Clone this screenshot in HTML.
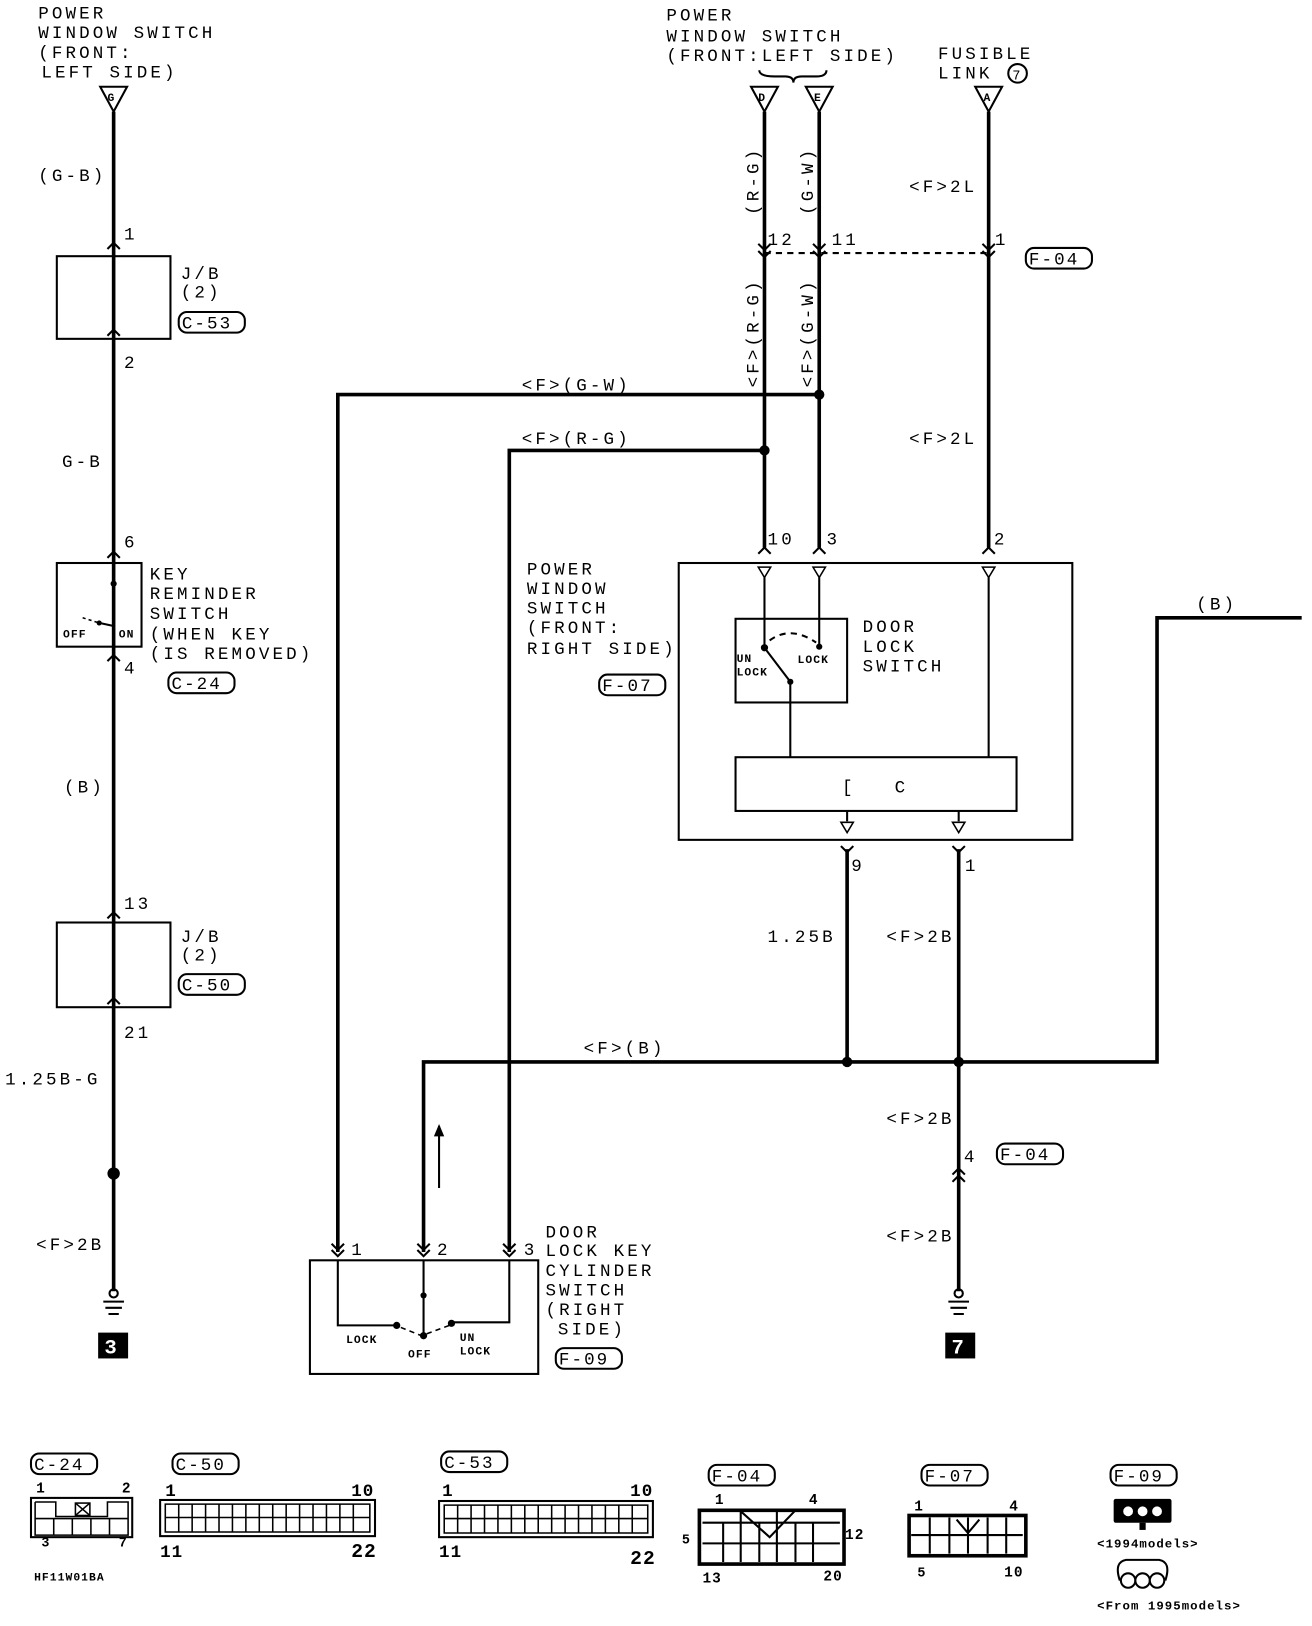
<!DOCTYPE html>
<html><head><meta charset="utf-8"><style>
html,body{margin:0;padding:0;background:#fff;}
svg{display:block;}
text{font-family:"Liberation Mono",monospace;font-size:17px;fill:#000;letter-spacing:3px;}
.b{font-weight:bold;letter-spacing:1px;}
.s{font-size:11px;font-weight:bold;letter-spacing:1px;}
.t{stroke:#000;stroke-width:3.5;fill:none;}
.n{stroke:#000;stroke-width:2;fill:none;}
.th{stroke:#000;stroke-width:1.5;fill:none;}
.lb{letter-spacing:2px;}
</style></head><body>
<svg width="1312" height="1626" viewBox="0 0 1270 1574" preserveAspectRatio="none" xmlns="http://www.w3.org/2000/svg">
<!-- LEFT COLUMN -->
<text x="37" y="18">POWER</text><text x="37" y="37">WINDOW SWITCH</text><text x="37" y="56">(FRONT:</text><text x="40" y="75">LEFT SIDE)</text>
<path class="n" d="M97 84 L123 84 L110 108 Z"/><text x="104" y="98" class="s">G</text>
<line class="t" x1="110" y1="108" x2="110" y2="1250"/>
<text x="37" y="175">(G-B)</text>
<path class="n" d="M104 241 L110 235 L116 241 M104 325 L110 319 L116 325"/>
<text x="120" y="232">1</text>
<rect class="n" x="55" y="248" width="110" height="80"/>
<text x="175" y="270">J/B</text><text x="175" y="288">(2)</text>
<rect class="n" x="173" y="302" width="64" height="20" rx="8"/><text x="176" y="318" class="lb">C-53</text>
<text x="120" y="356">2</text><text x="60" y="452">G-B</text>
<path class="n" d="M104 540 L110 534 L116 540 M104 640 L110 634 L116 640"/>
<text x="120" y="530">6</text>
<rect class="n" x="55" y="545" width="82" height="81"/>
<circle cx="110" cy="565" r="3"/><line class="n" x1="110" y1="565" x2="110" y2="604"/>
<path class="th" d="M80 598 L96 603" stroke-dasharray="3 3"/><circle cx="96" cy="603" r="2.5"/><line class="n" x1="96" y1="603" x2="110" y2="606"/>
<text x="61" y="617" class="s">OFF</text><text x="115" y="617" class="s">ON</text>
<text x="145" y="561">KEY</text><text x="145" y="580">REMINDER</text><text x="145" y="599">SWITCH</text>
<text x="145" y="619">(WHEN KEY</text><text x="145" y="638">(IS REMOVED)</text>
<rect class="n" x="163" y="651" width="64" height="20" rx="8"/><text x="166" y="667" class="lb">C-24</text>
<text x="120" y="652">4</text><text x="62" y="767">(B)</text>
<path class="n" d="M104 889 L110 883 L116 889 M104 972 L110 966 L116 972"/>
<text x="120" y="880">13</text>
<rect class="n" x="55" y="893" width="110" height="82"/>
<text x="175" y="912">J/B</text><text x="175" y="930">(2)</text>
<rect class="n" x="173" y="943" width="64" height="20" rx="8"/><text x="176" y="959" class="lb">C-50</text>
<text x="120" y="1005">21</text><text x="5" y="1050">1.25B-G</text>
<circle cx="110" cy="1136" r="6"/>
<text x="35" y="1210">&lt;F&gt;2B</text>
<circle class="n" cx="110" cy="1252" r="4" fill="#fff"/><path class="n" d="M100 1260 H120 M102 1266 H118 M105 1272 H115"/>
<rect x="95" y="1290" width="29" height="25" fill="#000"/><text x="101" y="1310" style="fill:#fff;font-weight:bold;font-size:20px">3</text>

<!-- TOP MIDDLE -->
<text x="645" y="20">POWER</text><text x="645" y="40">WINDOW SWITCH</text><text x="645" y="59">(FRONT:LEFT SIDE)</text>
<path class="n" d="M735 68 Q735 74 750 74 L760 74 Q768 74 768 80 Q768 74 776 74 L790 74 Q800 74 800 68"/>
<text x="908" y="57">FUSIBLE</text><text x="908" y="76">LINK</text><circle class="n" cx="985" cy="71" r="9"/><text x="980" y="77" style="font-size:13px;letter-spacing:0">7</text>
<path class="n" d="M727 84 L753 84 L740 108 Z"/><text x="734" y="98" class="s">D</text>
<path class="n" d="M780 84 L806 84 L793 108 Z"/><text x="788" y="98" class="s">E</text>
<path class="n" d="M944 84 L970 84 L957 108 Z"/><text x="952" y="98" class="s">A</text>
<line class="t" x1="740" y1="108" x2="740" y2="530"/>
<line class="t" x1="793" y1="108" x2="793" y2="530"/>
<line class="t" x1="957" y1="108" x2="957" y2="530"/>
<text transform="translate(734,208) rotate(-90)">(R-G)</text>
<text transform="translate(787,208) rotate(-90)">(G-W)</text>
<text x="880" y="186">&lt;F&gt;2L</text>
<line class="n" x1="740" y1="245" x2="957" y2="245" stroke-dasharray="6 5"/>
<path class="n" d="M734 236 L740 242 L746 236 M734 243 L740 249 L746 243 M787 236 L793 242 L799 236 M787 243 L793 249 L799 243 M951 236 L957 242 L963 236 M951 243 L957 249 L963 243"/>
<text x="743" y="237">12</text><text x="805" y="237">11</text><text x="963" y="237">1</text>
<rect class="n" x="993" y="240" width="64" height="20" rx="8"/><text x="996" y="256" class="lb">F-04</text>
<text transform="translate(734,375) rotate(-90)">&lt;F&gt;(R-G)</text>
<text transform="translate(787,375) rotate(-90)">&lt;F&gt;(G-W)</text>
<text x="880" y="430">&lt;F&gt;2L</text>
<circle cx="793" cy="382" r="5"/><circle cx="740" cy="436" r="5"/>
<path class="t" d="M793 382 H327 V1212"/>
<path class="t" d="M740 436 H493 V1212"/>
<text x="505" y="378">&lt;F&gt;(G-W)</text><text x="505" y="430">&lt;F&gt;(R-G)</text>
<path class="n" d="M734 536 L740 530 L746 536 M787 536 L793 530 L799 536 M951 536 L957 530 L963 536"/>
<text x="743" y="527">10</text><text x="800" y="527">3</text><text x="962" y="527">2</text>
<text x="510" y="556">POWER</text><text x="510" y="575">WINDOW</text><text x="510" y="594">SWITCH</text><text x="510" y="613">(FRONT:</text><text x="510" y="633">RIGHT SIDE)</text>
<rect class="n" x="580" y="653" width="64" height="20" rx="8"/><text x="583" y="669" class="lb">F-07</text>
<rect class="n" x="657" y="545" width="381" height="268"/>
<path class="th" d="M734 549 H746 L740 559 Z M787 549 H799 L793 559 Z M951 549 H963 L957 559 Z"/>
<line class="n" x1="740" y1="559" x2="740" y2="627"/>
<line class="n" x1="793" y1="559" x2="793" y2="626"/>
<line class="n" x1="957" y1="559" x2="957" y2="733"/>
<rect class="n" x="712" y="599" width="108" height="81"/>
<circle cx="740" cy="627" r="3.5"/><circle cx="793" cy="626" r="3"/><circle cx="765" cy="660" r="3"/>
<line class="n" x1="740" y1="627" x2="765" y2="660"/>
<path class="n" d="M745 620 Q765 605 790 622" stroke-dasharray="6 5"/>
<line class="n" x1="765" y1="660" x2="765" y2="733"/>
<text x="713" y="641" class="s">UN</text><text x="713" y="654" class="s">LOCK</text><text x="772" y="642" class="s">LOCK</text>
<text x="835" y="612">DOOR</text><text x="835" y="631">LOCK</text><text x="835" y="650">SWITCH</text>
<rect class="n" x="712" y="733" width="272" height="52"/>
<text x="815" y="767">[</text><text x="866" y="767">C</text>
<line class="n" x1="820" y1="785" x2="820" y2="795"/><line class="n" x1="928" y1="785" x2="928" y2="795"/>
<path class="th" d="M814 796 H826 L820 806 Z M922 796 H934 L928 806 Z"/>
<path class="n" d="M814 819 L820 825 L826 819 M922 819 L928 825 L934 819"/>
<line class="t" x1="820" y1="822" x2="820" y2="1028"/>
<line class="t" x1="928" y1="822" x2="928" y2="1250"/>
<text x="824" y="843">9</text><text x="934" y="843">1</text>
<text x="743" y="912">1.25B</text><text x="858" y="912">&lt;F&gt;2B</text>
<path class="t" d="M410 1212 V1028 H1120 V598 H1260"/>
<text x="1158" y="590">(B)</text><text x="565" y="1020">&lt;F&gt;(B)</text>
<circle cx="820" cy="1028" r="5"/><circle cx="928" cy="1028" r="5"/>
<line class="n" x1="425" y1="1150" x2="425" y2="1090"/><path d="M420 1100 L425 1088 L430 1100 Z"/>
<text x="858" y="1088">&lt;F&gt;2B</text>
<path class="n" d="M922 1137 L928 1131 L934 1137 M922 1144 L928 1138 L934 1144"/>
<text x="933" y="1125">4</text>
<rect class="n" x="965" y="1107" width="64" height="20" rx="8"/><text x="968" y="1123" class="lb">F-04</text>
<text x="858" y="1202">&lt;F&gt;2B</text>
<circle class="n" cx="928" cy="1252" r="4" fill="#fff"/><path class="n" d="M918 1260 H938 M920 1266 H936 M923 1272 H933"/>
<rect x="915" y="1290" width="29" height="25" fill="#000"/><text x="921" y="1310" style="fill:#fff;font-weight:bold;font-size:20px">7</text>
<path class="n" d="M321 1204 L327 1210 L333 1204 M321 1210 L327 1216 L333 1210 M404 1204 L410 1210 L416 1204 M404 1210 L410 1216 L416 1210 M487 1204 L493 1210 L499 1204 M487 1210 L493 1216 L499 1210"/>
<text x="340" y="1215">1</text><text x="423" y="1215">2</text><text x="507" y="1215">3</text>
<rect class="n" x="300" y="1220" width="221" height="110"/>
<path class="n" d="M327 1220 V1283 H383"/><path class="n" d="M493 1220 V1280 H437"/>
<line class="n" x1="410" y1="1220" x2="410" y2="1293"/>
<circle cx="410" cy="1254" r="3"/><circle cx="410" cy="1293" r="3.5"/><circle cx="384" cy="1283" r="3.5"/><circle cx="437" cy="1281" r="3.5"/>
<path class="th" d="M388 1285 L408 1293 L435 1283" stroke-dasharray="5 4"/>
<text x="335" y="1300" class="s">LOCK</text><text x="395" y="1314" class="s">OFF</text><text x="445" y="1298" class="s">UN</text><text x="445" y="1311" class="s">LOCK</text>
<text x="528" y="1198">DOOR</text><text x="528" y="1216">LOCK KEY</text><text x="528" y="1235">CYLINDER</text><text x="528" y="1254">SWITCH</text><text x="528" y="1273">(RIGHT</text><text x="540" y="1292">SIDE)</text>
<rect class="n" x="538" y="1305" width="64" height="20" rx="8"/><text x="541" y="1321" class="lb">F-09</text>
<!-- BOTTOM CONNECTORS -->
<rect class="n" x="30" y="1407" width="64" height="20" rx="8"/><text x="33" y="1423" class="lb">C-24</text>
<text x="35" y="1445" class="b" style="font-size:14px">1</text><text x="118" y="1445" class="b" style="font-size:14px">2</text>
<rect class="n" x="30" y="1450" width="98" height="38"/>
<path class="th" d="M34 1454 H54 V1468 H75 M34 1454 V1486 H124 V1454 H104 V1468 H54"/>
<rect class="th" x="73" y="1455" width="14" height="12"/><path class="th" d="M73 1455 L87 1467 M87 1455 L73 1467"/>
<path class="th" d="M34 1470 H124 M52 1470 V1486 M70 1470 V1486 M88 1470 V1486 M106 1470 V1486"/>
<text x="40" y="1497" class="b" style="font-size:13px">3</text><text x="115" y="1497" class="b" style="font-size:13px">7</text>
<text x="33" y="1530" class="s">HF11W01BA</text>
<rect class="n" x="167" y="1407" width="64" height="20" rx="8"/><text x="170" y="1423" class="lb">C-50</text>
<text x="160" y="1448" class="b" style="font-size:17px">1</text><text x="340" y="1448" class="b" style="font-size:17px">10</text>
<rect class="n" x="155" y="1452" width="208" height="35"/>
<path class="th" d="M160 1456 H358 V1483 H160 Z M160 1469 H358 M173 1456 V1483 M186 1456 V1483 M199 1456 V1483 M212 1456 V1483 M225 1456 V1483 M238 1456 V1483 M251 1456 V1483 M264 1456 V1483 M277 1456 V1483 M290 1456 V1483 M303 1456 V1483 M316 1456 V1483 M329 1456 V1483 M342 1456 V1483"/>
<text x="155" y="1507" class="b" style="font-size:17px">11</text><text x="340" y="1507" class="b" style="font-size:19px">22</text>
<rect class="n" x="427" y="1405" width="64" height="20" rx="8"/><text x="430" y="1421" class="lb">C-53</text>
<text x="428" y="1448" class="b" style="font-size:17px">1</text><text x="610" y="1448" class="b" style="font-size:17px">10</text>
<rect class="n" x="425" y="1453" width="207" height="35"/>
<path class="th" d="M430 1457 H627 V1484 H430 Z M430 1470 H627 M443 1457 V1484 M456 1457 V1484 M469 1457 V1484 M482 1457 V1484 M495 1457 V1484 M508 1457 V1484 M521 1457 V1484 M534 1457 V1484 M547 1457 V1484 M560 1457 V1484 M573 1457 V1484 M586 1457 V1484 M599 1457 V1484 M612 1457 V1484"/>
<text x="425" y="1507" class="b" style="font-size:17px">11</text><text x="610" y="1514" class="b" style="font-size:19px">22</text>
<rect class="n" x="686" y="1418" width="64" height="20" rx="8"/><text x="689" y="1434" class="lb">F-04</text>
<text x="692" y="1456" class="b" style="font-size:14px">1</text><text x="783" y="1456" class="b" style="font-size:14px">4</text>
<path class="t" d="M677 1514 V1462 H817 V1514 Z"/>
<path class="n" d="M680 1474 H813 M680 1494 H813 M700 1474 V1512 M717 1462 V1512 M735 1474 V1512 M752 1462 V1512 M770 1474 V1512 M787 1474 V1512 M716 1462 L745 1488 L770 1462"/>
<text x="660" y="1494" class="b" style="font-size:13px">5</text><text x="818" y="1490" class="b" style="font-size:14px">12</text>
<text x="680" y="1532" class="b" style="font-size:14px">13</text><text x="797" y="1530" class="b" style="font-size:14px">20</text>
<rect class="n" x="892" y="1418" width="64" height="20" rx="8"/><text x="895" y="1434" class="lb">F-07</text>
<text x="885" y="1462" class="b" style="font-size:14px">1</text><text x="977" y="1462" class="b" style="font-size:14px">4</text>
<rect class="t" x="880" y="1467" width="113" height="39"/>
<path class="n" d="M882 1486 H990 M900 1469 V1504 M919 1469 V1504 M937 1469 V1504 M956 1469 V1504 M974 1469 V1504 M926 1471 L937 1484 L948 1471"/>
<text x="888" y="1526" class="b" style="font-size:13px">5</text><text x="972" y="1526" class="b" style="font-size:14px">10</text>
<rect class="n" x="1075" y="1418" width="64" height="20" rx="8"/><text x="1078" y="1434" class="lb">F-09</text>
<rect x="1078" y="1451" width="56" height="23" rx="2"/>
<circle cx="1092" cy="1463" r="5.5" fill="#fff" stroke="#000" stroke-width="1.5"/><circle cx="1106" cy="1463" r="5.5" fill="#fff" stroke="#000" stroke-width="1.5"/><circle cx="1120" cy="1463" r="5.5" fill="#fff" stroke="#000" stroke-width="1.5"/>
<rect x="1103" y="1474" width="6" height="7"/>
<text x="1062" y="1498" class="s" style="font-size:12px">&lt;1994models&gt;</text>
<path class="n" d="M1084 1530 Q1078 1512 1090 1510 H1122 Q1134 1512 1128 1530"/>
<circle cx="1092" cy="1530" r="7" fill="#fff" stroke="#000" stroke-width="2"/><circle cx="1106" cy="1530" r="7" fill="#fff" stroke="#000" stroke-width="2"/><circle cx="1120" cy="1530" r="7" fill="#fff" stroke="#000" stroke-width="2"/>
<text x="1062" y="1558" class="s" style="font-size:12px">&lt;From 1995models&gt;</text>
</svg>
</body></html>
